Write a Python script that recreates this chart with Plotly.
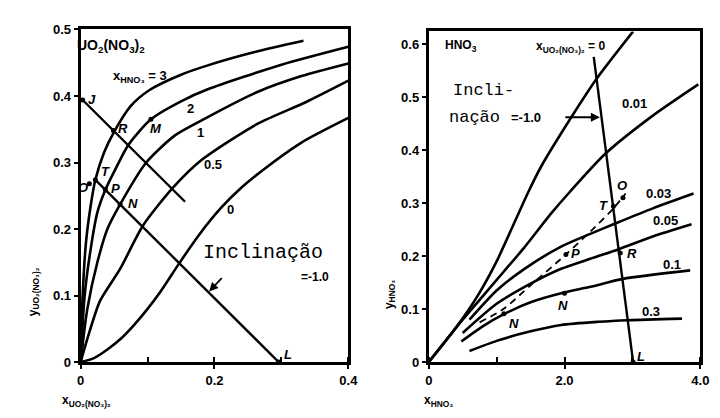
import plotly.graph_objects as go

# ---------------- left panel: UO2(NO3)2 ----------------
L_x_c3 = [0, 0.003, 0.008, 0.015, 0.022, 0.035, 0.05, 0.075, 0.103, 0.15, 0.19, 0.26, 0.333]
L_y_c3 = [0, 0.10, 0.18, 0.235, 0.274, 0.315, 0.346, 0.385, 0.409, 0.432, 0.446, 0.466, 0.483]
L_x_c2 = [0, 0.006, 0.015, 0.025, 0.037, 0.052, 0.071, 0.105, 0.15, 0.19, 0.30, 0.40]
L_y_c2 = [0, 0.10, 0.17, 0.225, 0.259, 0.29, 0.326, 0.365, 0.392, 0.41, 0.447, 0.474]
L_x_c1 = [0, 0.01, 0.025, 0.04, 0.059, 0.098, 0.14, 0.171, 0.264, 0.33, 0.40]
L_y_c1 = [0, 0.08, 0.15, 0.20, 0.237, 0.30, 0.34, 0.358, 0.406, 0.43, 0.449]
L_x_c05 = [0, 0.01, 0.029, 0.059, 0.093, 0.137, 0.181, 0.264, 0.337, 0.40]
L_y_c05 = [0, 0.035, 0.092, 0.14, 0.205, 0.261, 0.304, 0.358, 0.391, 0.423]
L_x_c0 = [0, 0.02, 0.04, 0.06, 0.08, 0.10, 0.12, 0.147, 0.176, 0.21, 0.24, 0.274, 0.33, 0.40]
L_y_c0 = [0, 0.006, 0.019, 0.035, 0.056, 0.08, 0.107, 0.148, 0.19, 0.232, 0.262, 0.29, 0.33, 0.367]
L_op1_x = [0.003, 0.156]   # operating line through J, slope -1
L_op1_y = [0.394, 0.241]
L_op2_x = [0.022, 0.296]   # operating line to L, slope -1
L_op2_y = [0.274, 0.0]
L_pts_x = [0.003, 0.049, 0.105, 0.013, 0.022, 0.037, 0.059, 0.296]
L_pts_y = [0.394, 0.348, 0.365, 0.268, 0.274, 0.259, 0.237, 0.0]

# ---------------- right panel: HNO3 ----------------
R_x_c0 = [0, 0.4, 0.72, 1.0, 1.25, 1.47, 1.66, 2.09, 2.48, 3.01]
R_y_c0 = [0, 0.065, 0.125, 0.19, 0.26, 0.322, 0.37, 0.46, 0.536, 0.624]
R_x_c001 = [0, 0.5, 0.8, 1.1, 1.4, 1.8, 2.07, 2.6, 3.3, 3.97]
R_y_c001 = [0, 0.08, 0.125, 0.17, 0.215, 0.28, 0.32, 0.393, 0.465, 0.524]
R_x_c003 = [0.6, 1.0, 1.4, 1.95, 2.38, 2.72, 3.3, 3.9]
R_y_c003 = [0.08, 0.135, 0.175, 0.218, 0.242, 0.26, 0.29, 0.318]
R_x_c005 = [0.5, 1.0, 1.5, 1.95, 2.38, 2.8, 3.3, 3.87]
R_y_c005 = [0.055, 0.11, 0.148, 0.176, 0.195, 0.213, 0.237, 0.26]
R_x_c01 = [0.48, 0.8, 1.1, 1.5, 1.95, 2.38, 2.86, 3.85]
R_y_c01 = [0.039, 0.068, 0.09, 0.113, 0.13, 0.142, 0.157, 0.173]
R_x_c03 = [0.6, 1.0, 1.5, 1.95, 2.5, 2.94, 3.73]
R_y_c03 = [0.021, 0.04, 0.058, 0.07, 0.076, 0.079, 0.082]
R_dash_x = [0.75, 1.1, 1.5, 2.02, 2.45, 2.72, 2.9]
R_dash_y = [0.075, 0.1, 0.145, 0.203, 0.255, 0.29, 0.318]
R_op_x = [2.43, 3.01]
R_op_y = [0.576, 0.0]
R_pts_x = [2.86, 2.72, 2.82, 2.02, 1.107, 2.0, 3.01]
R_pts_y = [0.31, 0.294, 0.206, 0.203, 0.091, 0.13, 0.0]

L_xticks = [0, 0.2, 0.4]
L_xticklabels = ["0", "0.2", "0.4"]
L_yticks = [0, 0.1, 0.2, 0.3, 0.4, 0.5]
L_yticklabels = ["0", "0.1", "0.2", "0.3", "0.4", "0.5"]
R_xticks = [0, 2.0, 4.0]
R_xticklabels = ["0", "2.0", "4.0"]
R_yticks = [0, 0.1, 0.2, 0.3, 0.4, 0.5, 0.6]
R_yticklabels = ["0", "0.1", "0.2", "0.3", "0.4", "0.5", "0.6"]

fig = go.Figure()
LW = 2.6

def add_line(x, y, xa, ya, dash="solid", shape="spline", w=LW):
    fig.add_trace(go.Scatter(x=x, y=y, xaxis=xa, yaxis=ya, mode="lines",
                             line=dict(color="black", width=w, dash=dash, shape=shape, smoothing=0.7),
                             cliponaxis=False, hoverinfo="skip", showlegend=False))

for xs, ys in [(L_x_c3, L_y_c3), (L_x_c2, L_y_c2), (L_x_c1, L_y_c1), (L_x_c05, L_y_c05), (L_x_c0, L_y_c0)]:
    add_line(xs, ys, "x", "y")
add_line(L_op1_x, L_op1_y, "x", "y", shape="linear", w=2.4)
add_line(L_op2_x, L_op2_y, "x", "y", shape="linear", w=2.4)
fig.add_trace(go.Scatter(x=L_pts_x, y=L_pts_y, xaxis="x", yaxis="y", mode="markers",
                         marker=dict(color="black", size=5), cliponaxis=False, showlegend=False))

for xs, ys in [(R_x_c0, R_y_c0), (R_x_c001, R_y_c001), (R_x_c003, R_y_c003),
               (R_x_c005, R_y_c005), (R_x_c01, R_y_c01), (R_x_c03, R_y_c03)]:
    add_line(xs, ys, "x2", "y2")
add_line(R_dash_x, R_dash_y, "x2", "y2", dash="7px,5px", w=1.8)
add_line(R_op_x, R_op_y, "x2", "y2", shape="linear", w=2.4)
fig.add_trace(go.Scatter(x=R_pts_x, y=R_pts_y, xaxis="x2", yaxis="y2", mode="markers",
                         marker=dict(color="black", size=5), cliponaxis=False, showlegend=False))

tickfont = dict(family="Liberation Sans", size=13, color="black", weight="bold")
axis_common = dict(showgrid=False, zeroline=False, showline=True, linecolor="black", linewidth=3,
                   mirror=True, tickfont=tickfont, ticks="outside", ticklen=4, tickwidth=2,
                   tickcolor="black")

fig.update_layout(
    width=720, height=418, margin=dict(l=0, r=0, t=0, b=0),
    paper_bgcolor="white", plot_bgcolor="white", showlegend=False,
    xaxis=dict(domain=[70/720, 343/720], range=[0, 0.4], tickvals=L_xticks, ticktext=L_xticklabels,
               anchor="y", minor=dict(ticks="inside", dtick=0.1, ticklen=5, tickwidth=2, tickcolor="black"),
               **axis_common),
    yaxis=dict(domain=[58/418, 403/418], range=[0, 0.5], tickvals=L_yticks, ticktext=L_yticklabels,
               anchor="x", **axis_common),
    xaxis2=dict(domain=[425/720, 702/720], range=[0, 4.0], tickvals=R_xticks, ticktext=R_xticklabels,
                anchor="y2", minor=dict(ticks="inside", dtick=1, ticklen=5, tickwidth=2, tickcolor="black"),
                **axis_common),
    yaxis2=dict(domain=[58/418, 401/418], range=[0, 0.624], tickvals=R_yticks, ticktext=R_yticklabels,
                anchor="x2", **axis_common),
)

SANS = "Liberation Sans"
MONO = "Liberation Mono"

def ann(text, x, y, xr, yr, size=13, family=SANS, bold=True, angle=0, xanchor="center"):
    fig.add_annotation(text=text, x=x, y=y, xref=xr, yref=yr, showarrow=False, textangle=angle,
                       xanchor=xanchor, yanchor="middle",
                       font=dict(family=family, size=size, color="black", weight="bold" if bold else "normal"))

# left panel texts
ann("UO<sub>2</sub>(NO<sub>3</sub>)<sub>2</sub>", 0.045, 0.475, "x", "y", size=14)
ann("x<sub>HNO₃</sub> = 3", 0.089, 0.430, "x", "y", size=13)
ann("2", 0.164, 0.381, "x", "y")
ann("1", 0.179, 0.345, "x", "y")
ann("0.5", 0.198, 0.297, "x", "y")
ann("0", 0.224, 0.229, "x", "y")
for t, x, y in [("J", 0.017, 0.394), ("R", 0.063, 0.351), ("M", 0.112, 0.351), ("O", 0.004, 0.262),
                ("T", 0.037, 0.287), ("P", 0.052, 0.261), ("N", 0.078, 0.239), ("L", 0.310, 0.012)]:
    ann("<i>" + t + "</i>", x, y, "x", "y", size=13)
ann("Inclinação", 0.272, 0.164, "x", "y", size=20, family=MONO, bold=False)
ann("=-1.0", 0.35, 0.128, "x", "y", size=12)
fig.add_annotation(x=0.192, y=0.106, xref="x", yref="y", ax=14, ay=-15, axref="pixel", ayref="pixel",
                   text="", showarrow=True, arrowhead=2, arrowsize=1, arrowwidth=1.8, arrowcolor="black")

# right panel texts
ann("HNO<sub>3</sub>", 0.48, 0.596, "x2", "y2", size=12)
ann("x<sub>UO₂(NO₃)₂</sub> = 0", 2.09, 0.595, "x2", "y2", size=12)
ann("0.01", 3.03, 0.487, "x2", "y2")
ann("0.03", 3.39, 0.318, "x2", "y2")
ann("0.05", 3.49, 0.267, "x2", "y2")
ann("0.1", 3.58, 0.185, "x2", "y2")
ann("0.3", 3.28, 0.096, "x2", "y2")
for t, x, y in [("O", 2.84, 0.333), ("T", 2.57, 0.295), ("R", 3.0, 0.205), ("L", 3.12, 0.01),
                ("P", 2.16, 0.204), ("N", 1.26, 0.073), ("N", 1.98, 0.107)]:
    ann("<i>" + t + "</i>", x, y, "x2", "y2", size=13)
ann("Incli-", 0.81, 0.513, "x2", "y2", size=17, family=MONO, bold=False)
ann("nação", 0.68, 0.462, "x2", "y2", size=17, family=MONO, bold=False)
ann("=-1.0", 1.43, 0.462, "x2", "y2", size=13)
fig.add_annotation(x=2.52, y=0.462, xref="x2", yref="y2", ax=-36, ay=0, axref="pixel", ayref="pixel",
                   text="", showarrow=True, arrowhead=2, arrowsize=1, arrowwidth=1.8, arrowcolor="black")

# axis titles
ann("y<sub>UO₂(NO₃)₂</sub>", 22/720, 1 - 287/418, "paper", "paper", size=12, angle=-90)
ann("x<sub>UO₂(NO₃)₂</sub>", 76/720, 1 - 400/418, "paper", "paper", size=12)
ann("y<sub>HNO₃</sub>", 385/720, 1 - 290/418, "paper", "paper", size=12, angle=-90)
ann("x<sub>HNO₃</sub>", 435/720, 1 - 400/418, "paper", "paper", size=12)

fig.write_html("out.html")
